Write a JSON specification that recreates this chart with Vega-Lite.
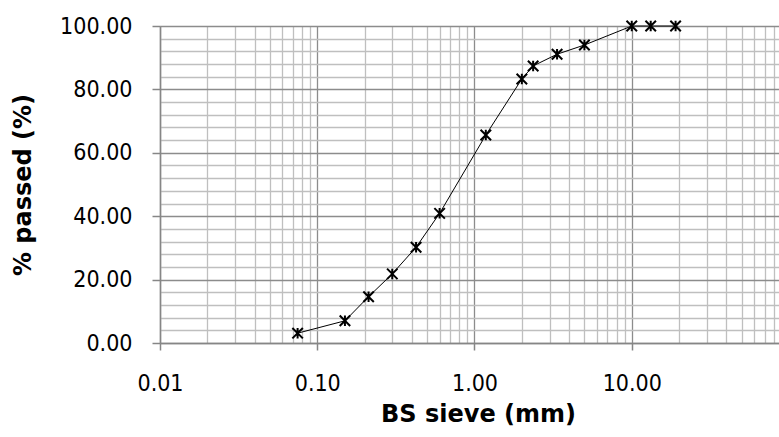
{
  "$schema": "https://vega.github.io/schema/vega-lite/v6.json",
  "width": 629,
  "height": 317,
  "autosize": {"type": "none"},
  "padding": {"left": 160, "top": 26, "right": 0, "bottom": 94},
  "background": "white",
  "config": {
    "view": {"stroke": null},
    "axis": {
      "labelFont": "DejaVu Sans Condensed, DejaVu Sans",
      "labelFontSize": 23,
      "labelColor": "#000000",
      "titleFont": "DejaVu Sans",
      "titleFontSize": 24,
      "titleFontWeight": "bold",
      "titleColor": "#000000",
      "domainColor": "#868686",
      "domainWidth": 1.5,
      "tickColor": "#868686",
      "tickWidth": 1.5,
      "gridWidth": 1.3
    }
  },
  "data": {
    "values": [
      {"sieve": 0.075, "passed": 3.1},
      {"sieve": 0.15, "passed": 7.0},
      {"sieve": 0.212, "passed": 14.6},
      {"sieve": 0.3, "passed": 21.8},
      {"sieve": 0.425, "passed": 30.2},
      {"sieve": 0.6, "passed": 40.9},
      {"sieve": 1.18, "passed": 65.6},
      {"sieve": 2.0, "passed": 83.3},
      {"sieve": 2.36, "passed": 87.4},
      {"sieve": 3.35, "passed": 91.1},
      {"sieve": 5.0, "passed": 94.0},
      {"sieve": 10.0, "passed": 100.0},
      {"sieve": 13.2, "passed": 100.0},
      {"sieve": 19.0, "passed": 100.0}
    ]
  },
  "encoding": {
    "x": {
      "field": "sieve",
      "type": "quantitative",
      "scale": {"type": "log", "domain": [0.01, 100], "nice": false},
      "axis": {
        "title": "BS sieve (mm)",
        "values": [0.01,0.02,0.03,0.04,0.05,0.06,0.07,0.08,0.09,0.1,0.2,0.3,0.4,0.5,0.6,0.7,0.8,0.9,1,2,3,4,5,6,7,8,9,10,20,30,40,50,60,70,80,90,100],
        "grid": true,
        "gridColor": {"condition": {"test": "abs(log(datum.value)/LN10 - round(log(datum.value)/LN10)) < 0.000001", "value": "#8c8c8c"}, "value": "#bfbfbf"},
        "tickOpacity": {"condition": {"test": "abs(log(datum.value)/LN10 - round(log(datum.value)/LN10)) < 0.000001", "value": 1}, "value": 0},
        "tickSize": 7,
        "labelExpr": "(abs(log(datum.value)/LN10 - round(log(datum.value)/LN10)) < 0.000001 && datum.value < 50) ? format(datum.value, '.2f') : ''",
        "labelPadding": 22,
        "labelBaseline": "top",
        "labelFlush": false,
        "labelOverlap": false,
        "titleBaseline": "alphabetic",
        "titleY": 78,
        "titleX": 318
      }
    },
    "y": {
      "field": "passed",
      "type": "quantitative",
      "scale": {"domain": [0, 100], "nice": false},
      "axis": {
        "title": "% passed (%)",
        "values": [0,4,8,12,16,20,24,28,32,36,40,44,48,52,56,60,64,68,72,76,80,84,88,92,96,100],
        "grid": true,
        "gridColor": {"condition": {"test": "datum.value % 20 === 0", "value": "#8c8c8c"}, "value": "#bfbfbf"},
        "tickOpacity": {"condition": {"test": "datum.value % 20 === 0", "value": 1}, "value": 0},
        "tickSize": 8,
        "labelExpr": "datum.value % 20 === 0 ? format(datum.value, '.2f') : ''",
        "labelPadding": 20,
        "labelOverlap": false,
        "labelFlush": false,
        "titleBaseline": "alphabetic",
        "titleAngle": 270,
        "titleX": -130,
        "titleY": 158.5
      }
    }
  },
  "layer": [
    {
      "mark": {"type": "line", "interpolate": "linear", "color": "#000000", "strokeWidth": 1}
    },
    {
      "mark": {
        "type": "point",
        "shape": "M-1,-1L1,1M-1,1L1,-1M0,-1L0,1",
        "filled": false,
        "color": "#000000",
        "size": 110,
        "strokeWidth": 2,
        "opacity": 1
      }
    }
  ]
}
